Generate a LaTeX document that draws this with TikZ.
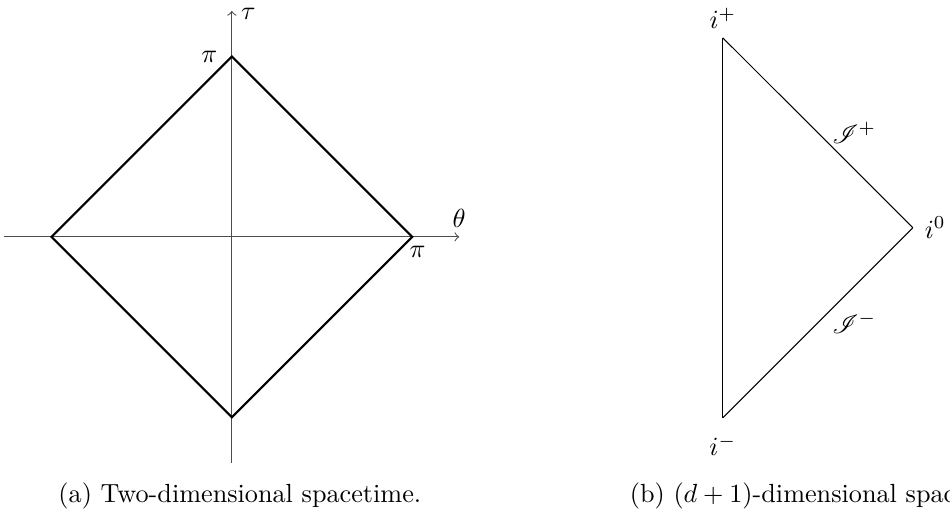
\documentclass[tikz,border=0pt]{standalone}
\usepackage{amsmath}
\usepackage{mathrsfs}
\usepackage{tikz}
\usetikzlibrary{positioning, calc}

\begin{document}
\begin{tikzpicture}[axis/.style={->, draw=black!70}, diamondline/.style={thick}, triline/.style={}, caption/.style={anchor=base}]
\useasboundingbox (-3.11,-3.745) rectangle (9.633,3.177);
% (a) two-dimensional spacetime
\coordinate (west) at (-3.05,0);
\coordinate (east) at (3.05,0);
\coordinate (south) at (0,-3.03);
\coordinate (north) at (0,3.03);
\coordinate (top) at (0,2.42);
\coordinate (right) at (2.42,0);
\coordinate (bottom) at (0,-2.42);
\coordinate (left) at (-2.42,0);

\draw [axis] (west) -- (east);
\draw [axis] (south) -- (north);
\draw [diamondline] (top) -- (right) -- (bottom) -- (left) -- cycle;

\node (theta) [above=0pt of east] {$\theta$};
\node (tau) [right=0pt of north, yshift=-1pt] {$\tau$};
\node (pitop) [left=2pt of top] {$\pi$};
\node (piright) [below=0pt of right, xshift=2pt] {$\pi$};

% (b) (d+1)-dimensional spacetime
\coordinate (iplus) at (6.586,2.669);
\coordinate (izero) at (9.135,0.121);
\coordinate (iminus) at (6.586,-2.428);

\draw [triline] (iplus) -- (izero) node [midway, right, xshift=2pt] (scriplus) {$\mathscr{I}^+$};
\draw [triline] (izero) -- (iminus) node [midway, right, xshift=2pt] (scriminus) {$\mathscr{I}^-$};
\draw [triline] (iminus) -- (iplus);

\node (lplus) [above=0pt of iplus] {$i^+$};
\node (lzero) [right=1pt of izero] {$i^0$};
\node (lminus) [below=3pt of iminus] {$i^-$};

% captions
\node (capa) [caption] at (0.107,-3.568) {(a) Two-dimensional spacetime.};
\node (capb) [caption] at (7.99,-3.568) {(b) $(d+1)$-dimensional spacetime.};
\end{tikzpicture}
\end{document}
